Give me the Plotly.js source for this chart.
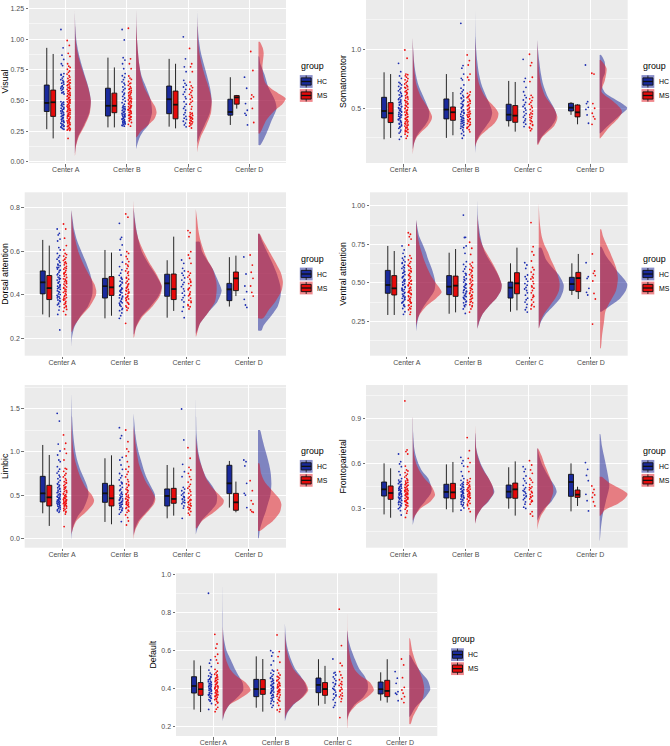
<!DOCTYPE html>
<html><head><meta charset="utf-8">
<script src="https://cdn.plot.ly/plotly-3.0.1.min.js"></script>
<style>html,body{margin:0;padding:0;background:#fff}</style></head>
<body><div id="chart" style="width:670px;height:746px"></div>
<script>
const centers = ['Center A','Center B','Center C','Center D'];
const groups = ['HC','MS'];
const panelNames = ['Visual','Somatomotor','Dorsal attention','Ventral attention','Limbic','Frontoparietal','Default'];

// order of every list below: A HC, A MS, B HC, B MS, C HC, C MS, D HC, D MS
// boxes: [lower whisker, q1, median, q3, upper whisker]
const visualBoxes = [[.265,.41,.48,.626,.93],[.19,.37,.485,.585,.88],[.28,.373,.457,.60,.85],[.28,.40,.457,.56,.77],[.286,.392,.51,.618,.84],[.272,.35,.466,.577,.80],[.30,.38,.406,.51,.69],[.433,.47,.525,.54,.545]];
const somatomotorBoxes = [[.237,.418,.477,.593,.805],[.249,.379,.458,.548,.79],[.249,.41,.489,.579,.79],[.271,.398,.466,.511,.638],[.345,.395,.446,.534,.732],[.302,.381,.438,.523,.723],[.444,.477,.506,.542,.551],[.364,.427,.466,.528,.534]];
const dorsalBoxes = [[.311,.405,.458,.51,.652],[.298,.379,.431,.489,.626],[.293,.386,.44,.476,.606],[.305,.398,.435,.484,.594],[.296,.394,.453,.495,.559],[.327,.379,.427,.496,.667],[.347,.374,.426,.453,.573],[.395,.42,.476,.505,.58]];
const ventralBoxes = [[.291,.432,.486,.581,.74],[.291,.421,.464,.547,.707],[.299,.423,.475,.547,.696],[.308,.412,.482,.544,.72],[.312,.401,.469,.505,.627],[.321,.429,.497,.566,.729],[.421,.451,.492,.536,.627],[.395,.443,.531,.568,.688]];
const limbicBoxes = [[.289,.42,.52,.717,1.08],[.143,.374,.474,.613,.964],[.189,.416,.52,.636,.926],[.162,.374,.463,.613,.96],[.231,.374,.49,.571,.848],[.262,.405,.455,.578,.818],[.355,.517,.636,.845,.895],[.301,.324,.416,.52,.656]];
const frontoBoxes = [[.262,.384,.428,.477,.601],[.24,.362,.404,.451,.568],[.296,.371,.411,.462,.594],[.276,.366,.408,.468,.61],[.30,.371,.413,.457,.575],[.254,.369,.428,.47,.614],[.282,.382,.477,.528,.601],[.318,.375,.393,.424,.446]];
const defaultBoxes = [[.288,.375,.412,.461,.547],[.275,.363,.395,.43,.519],[.298,.356,.396,.447,.568],[.277,.368,.396,.446,.554],[.309,.377,.418,.454,.553],[.318,.363,.396,.43,.518],[.335,.37,.395,.433,.484],[.325,.356,.386,.442,.553]];

// half-violin outlines: [levels, widths]
const visualDensity = [
 [[.06,.12,.2,.3,.4,.5,.6,.7,.8,.9,1,1.1,1.25],[0,.012,.05,.15,.235,.26,.225,.165,.105,.055,.022,.007,0]],
 [[.05,.12,.2,.3,.4,.5,.6,.7,.8,.9,1,1.1,1.25],[.002,.015,.06,.165,.245,.26,.22,.155,.09,.04,.012,.004,0]],
 [[.1,.15,.2,.25,.3,.4,.5,.6,.7,.8,.9,1,1.1,1.25],[0,.025,.06,.12,.2,.26,.24,.17,.09,.05,.03,.015,.005,0]],
 [[.2,.25,.3,.35,.4,.45,.5,.6,.7,.8,.9,1,1.1,1.25],[.01,.08,.2,.3,.335,.31,.25,.14,.08,.05,.03,.015,.005,0]],
 [[.15,.2,.3,.4,.5,.6,.7,.8,.9,1,1.1,1.25],[0,.03,.12,.205,.235,.21,.16,.105,.055,.025,.008,0]],
 [[.07,.12,.2,.3,.4,.5,.6,.7,.8,.9,1,1.1,1.2],[0,.012,.055,.15,.225,.235,.19,.125,.07,.03,.012,.004,0]],
 [[.136,.23,.33,.435,.5,.61,.71,.8,.86],[.03,.13,.21,.295,.27,.16,.1,.03,.01]],
 [[.23,.34,.42,.47,.517,.56,.585,.64,.7,.776,.885,.93,.98],[.02,.13,.27,.39,.445,.32,.24,.115,.08,.065,.085,.07,.02]]];
const somatomotorDensity = [
 [[.15,.2,.25,.3,.35,.4,.46,.5,.6,.7,.8,.9,1,1.1],[0,.02,.05,.11,.19,.25,.267,.25,.17,.09,.045,.02,.007,0]],
 [[.105,.2,.25,.3,.35,.4,.43,.5,.6,.7,.8,.9,1,1.107],[0,.02,.06,.14,.24,.30,.31,.25,.13,.06,.03,.015,.006,0]],
 [[.113,.2,.25,.3,.35,.4,.46,.5,.6,.7,.8,.9,1,1.1,1.347],[0,.015,.05,.11,.18,.245,.275,.26,.18,.105,.06,.035,.018,.007,0]],
 [[.17,.22,.27,.32,.37,.42,.46,.5,.6,.7,.8,.9,1,1.1],[0,.03,.09,.2,.31,.365,.375,.33,.16,.07,.03,.015,.006,0]],
 [[.2,.25,.3,.35,.4,.45,.5,.6,.7,.8,.9,1,1.08],[.01,.06,.14,.23,.29,.305,.27,.165,.095,.055,.03,.01,0]],
 [[.19,.25,.3,.35,.4,.43,.5,.6,.7,.8,.9,1,1.08],[.012,.07,.17,.27,.315,.32,.265,.13,.06,.03,.015,.006,0]],
 [[.288,.345,.443,.5,.54,.585,.63,.68,.75,.8,.895,.952],[.01,.12,.33,.445,.36,.22,.09,.04,.05,.085,.08,.02]],
 [[.245,.33,.415,.46,.486,.53,.57,.64,.74,.84,.91],[.01,.14,.3,.355,.35,.28,.19,.03,.085,.11,.015]]];
const dorsalDensity = [
 [[.156,.2,.25,.3,.35,.4,.45,.5,.55,.6,.65,.7,.79],[0,.008,.045,.14,.27,.335,.34,.30,.235,.16,.09,.045,0]],
 [[.232,.26,.3,.35,.4,.42,.45,.5,.55,.6,.65,.7,.79],[.01,.05,.15,.3,.395,.40,.37,.27,.18,.11,.065,.03,0]],
 [[.22,.25,.3,.35,.4,.44,.5,.55,.6,.65,.7,.75,.8],[.005,.035,.12,.28,.41,.45,.34,.225,.13,.08,.045,.02,0]],
 [[.205,.25,.3,.35,.4,.44,.5,.55,.6,.65,.7,.75,.835],[.005,.04,.14,.31,.43,.455,.36,.25,.16,.085,.04,.015,0]],
 [[.225,.27,.32,.37,.42,.47,.52,.56,.6,.644],[.005,.07,.2,.35,.415,.35,.27,.18,.1,.06]],
 [[.21,.27,.32,.37,.42,.46,.52,.56,.6,.65,.7,.75,.794],[.005,.07,.2,.31,.335,.33,.27,.19,.13,.075,.04,.02,0]],
 [[.237,.26,.3,.35,.4,.44,.5,.55,.6,.65,.68],[.055,.09,.2,.32,.365,.36,.30,.225,.14,.06,.02]],
 [[.293,.33,.37,.42,.46,.5,.55,.6,.65,.68],[.08,.17,.28,.38,.40,.37,.28,.18,.08,.025]]];
const ventralDensity = [
 [[.182,.25,.3,.35,.4,.45,.5,.55,.6,.65,.7,.75,.8,.91],[0,.025,.06,.13,.22,.3,.315,.29,.25,.2,.16,.11,.055,0]],
 [[.22,.27,.3,.35,.4,.44,.5,.55,.6,.65,.7,.75,.8,.91],[0,.03,.07,.17,.33,.417,.32,.24,.18,.13,.09,.055,.03,0]],
 [[.2,.25,.3,.35,.4,.45,.49,.55,.6,.65,.7,.75,.8,.9,1.04],[0,.035,.09,.19,.31,.385,.396,.34,.27,.19,.12,.08,.05,.015,0]],
 [[.2,.25,.3,.35,.4,.45,.49,.55,.6,.65,.7,.75,.8,.9,.95],[0,.03,.09,.19,.31,.385,.396,.345,.285,.215,.14,.075,.035,.008,0]],
 [[.204,.25,.3,.35,.4,.45,.49,.55,.6,.65,.729],[0,.04,.12,.24,.35,.4,.406,.33,.22,.12,.04]],
 [[.204,.25,.3,.35,.4,.45,.5,.55,.6,.65,.7,.75,.8,.9,1.017],[.005,.03,.09,.18,.27,.33,.34,.31,.26,.2,.15,.09,.05,.015,0]],
 [[.312,.36,.4,.45,.49,.53,.58,.63,.68,.735],[.02,.2,.33,.42,.445,.38,.27,.18,.09,.02]],
 [[.074,.15,.25,.312,.36,.45,.53,.6,.7,.8,.848],[.01,.03,.065,.085,.14,.26,.29,.26,.16,.05,.015]]];
const limbicDensity = [
 [[-.027,.05,.15,.25,.35,.5,.6,.7,.8,.9,1,1.1,1.2,1.4,1.685],[0,.008,.035,.1,.2,.275,.255,.2,.14,.095,.065,.045,.03,.012,0]],
 [[.05,.1,.2,.3,.4,.44,.5,.6,.7,.8,.9,1,1.1,1.3,1.45],[0,.02,.08,.23,.35,.365,.33,.22,.15,.1,.06,.035,.02,.005,0]],
 [[.03,.1,.2,.3,.4,.5,.6,.7,.8,.9,1,1.1,1.2,1.446],[0,.02,.08,.2,.31,.345,.28,.21,.16,.12,.08,.05,.03,0]],
 [[-.02,.05,.1,.2,.3,.4,.46,.55,.65,.75,.85,1,1.1,1.3],[0,.01,.03,.1,.22,.33,.35,.29,.2,.14,.09,.05,.03,0]],
 [[.04,.1,.2,.3,.4,.5,.6,.7,.8,.9,1,1.2,1.4,1.685],[0,.02,.09,.22,.33,.34,.27,.17,.11,.07,.04,.012,.005,0]],
 [[.115,.2,.3,.4,.44,.5,.6,.7,.8,.9,1,1.1,1.2],[.01,.1,.29,.44,.45,.38,.25,.16,.11,.06,.03,.01,0]],
 [[0,.1,.2,.3,.4,.5,.63,.75,.85,.95,1.05,1.15,1.253],[.01,.03,.07,.12,.16,.2,.215,.205,.18,.145,.105,.07,.03]],
 [[.085,.14,.2,.3,.39,.45,.55,.65,.75,.868],[.03,.13,.24,.35,.376,.35,.23,.11,.05,.02]]];
const frontoDensity = [
 [[.19,.25,.3,.35,.4,.43,.5,.55,.6,.65,.7,.8,.9,1.077],[0,.035,.1,.2,.29,.305,.25,.15,.09,.05,.025,.007,.002,0]],
 [[.22,.25,.3,.35,.39,.45,.5,.55,.6,.65,.7,.8,.9,1.077],[0,.03,.12,.29,.358,.3,.19,.11,.055,.025,.012,.003,.002,0]],
 [[.2,.25,.3,.35,.41,.45,.5,.55,.6,.65,.7,.8],[0,.03,.1,.22,.31,.28,.22,.15,.09,.05,.02,.002]],
 [[.196,.25,.3,.35,.4,.45,.5,.55,.6,.65,.7,.856],[0,.03,.1,.21,.295,.28,.22,.14,.08,.04,.018,0]],
 [[.22,.25,.3,.35,.41,.45,.5,.55,.6,.65,.7],[0,.03,.11,.23,.31,.28,.2,.13,.07,.03,.005]],
 [[.158,.2,.25,.3,.35,.41,.45,.5,.55,.6,.65,.7],[0,.015,.055,.13,.21,.255,.25,.21,.16,.11,.07,.01]],
 [[.087,.15,.25,.35,.45,.55,.65,.72,.796],[.002,.015,.045,.1,.155,.12,.07,.035,.008]],
 [[.253,.29,.335,.37,.397,.43,.468,.512],[.01,.08,.3,.41,.45,.34,.165,.03]]];
const defaultDensity = [
 [[.225,.27,.31,.35,.39,.43,.47,.5,.55,.6,.65,.7,.8,.97],[0,.03,.1,.23,.33,.32,.25,.2,.13,.06,.025,.008,.005,0]],
 [[.235,.27,.31,.35,.39,.43,.47,.5,.55,.6,.65,.725],[0,.03,.1,.3,.45,.37,.2,.12,.055,.025,.012,0]],
 [[.225,.27,.31,.35,.39,.43,.47,.5,.55,.6,.65,.742],[0,.04,.13,.27,.355,.32,.24,.17,.1,.05,.02,0]],
 [[.24,.27,.31,.35,.39,.43,.47,.5,.55,.6,.65,.7],[0,.03,.12,.28,.375,.33,.22,.14,.07,.03,.01,0]],
 [[.233,.27,.31,.35,.39,.43,.47,.5,.55,.6,.65,.7],[0,.03,.11,.25,.33,.33,.27,.2,.13,.07,.025,.003]],
 [[.19,.24,.27,.31,.35,.39,.43,.47,.5,.55,.6,.65,.7,.868],[.002,.012,.04,.14,.31,.43,.37,.2,.12,.06,.03,.015,.005,0]],
 [[.25,.3,.35,.395,.44,.48,.53,.575],[.008,.1,.25,.337,.3,.2,.09,.01]],
 [[.212,.25,.3,.35,.4,.45,.5,.55,.6,.663],[.02,.06,.14,.22,.24,.21,.15,.09,.045,.008]]];

// individual subjects (estimated where the columns are too dense to separate)
const visualPoints = [
 [1.08,.93,.87,.835,.80,.785,.72,.708,.695,.683,.67,.664,.652,.641,.633,.622,.611,.604,.592,.583,.571,.562,.553,.49,.483,.474,.468,.459,.451,.444,.437,.429,.422,.414,.407,.399,.392,.384,.376,.369,.361,.353,.347,.338,.331,.322,.314,.305,.296,.288,.279,.271,.265,.712,.648,.617,.598,.566,.486,.463,.433,.411,.396,.381,.358,.343,.327,.309,.292,.283],
 [.99,.95,.885,.86,.80,.78,.77,.755,.741,.73,.716,.702,.691,.68,.668,.661,.652,.646,.633,.627,.618,.606,.598,.591,.583,.574,.566,.558,.549,.541,.533,.526,.517,.509,.502,.494,.487,.479,.471,.463,.456,.448,.441,.433,.426,.418,.41,.403,.395,.387,.38,.372,.364,.356,.349,.342,.334,.326,.318,.31,.302,.295,.287,.279,.271,.263,.255,.19,.643,.622,.602,.578,.553,.537,.521,.506,.491,.483,.467,.452,.437,.421,.414,.399,.383,.368,.352,.338,.322,.306,.291,.267,.258],
 [1.08,.995,.85,.83,.80,.76,.72,.702,.688,.67,.652,.641,.628,.611,.598,.586,.571,.559,.547,.533,.52,.507,.494,.482,.47,.456,.449,.441,.432,.425,.417,.41,.402,.394,.387,.379,.372,.366,.359,.351,.344,.337,.331,.323,.316,.308,.298,.29,.447,.436,.421,.405,.391,.382,.369,.355,.347,.334,.326,.319,.312,.303,.294],
 [1.09,.84,.80,.76,.70,.683,.672,.655,.642,.636,.624,.612,.6,.591,.582,.571,.562,.554,.546,.537,.529,.521,.513,.504,.496,.488,.48,.472,.464,.457,.449,.441,.434,.426,.418,.41,.402,.394,.386,.378,.37,.362,.354,.344,.333,.32,.305,.29,.594,.567,.541,.517,.493,.476,.453,.438,.422,.414,.398,.381,.366,.349],
 [1.02,.84,.775,.735,.665,.64,.625,.61,.59,.57,.55,.53,.515,.49,.47,.45,.435,.42,.40,.385,.37,.355,.345,.33,.315,.30,.285],
 [.925,.80,.775,.735,.65,.62,.605,.592,.58,.565,.55,.54,.525,.51,.495,.485,.47,.45,.43,.40,.392,.385,.378,.37,.362,.355,.348,.34,.332,.325,.318,.31,.30,.29,.275,.396,.366,.351,.336,.313],
 [.69,.60,.475,.42,.395,.38,.30],
 [.90,.745,.545,.53,.515,.435,.32]];
const somatomotorPoints = [
 [.881,.81,.774,.754,.72,.71,.698,.685,.672,.66,.648,.636,.625,.613,.602,.591,.58,.57,.559,.549,.538,.527,.516,.505,.494,.485,.474,.464,.453,.444,.433,.423,.412,.402,.392,.383,.372,.36,.345,.33,.315,.30,.29,.26,.237,.606,.574,.553,.531,.512,.498,.479,.468,.449,.438,.427,.407,.396,.377,.366,.352,.338],
 [.994,.924,.79,.785,.775,.764,.752,.741,.73,.718,.706,.694,.683,.672,.661,.65,.64,.629,.618,.608,.598,.587,.578,.567,.557,.547,.536,.526,.516,.506,.497,.487,.478,.468,.458,.449,.44,.43,.421,.412,.403,.394,.385,.376,.366,.358,.349,.34,.332,.323,.314,.305,.295,.28,.265,.245,.677,.634,.593,.562,.541,.521,.502,.483,.464,.445,.426,.407,.389,.371,.353,.336,.319,.301],
 [1.22,.862,.84,.79,.754,.74,.698,.67,.655,.64,.625,.61,.596,.582,.568,.555,.54,.527,.514,.5,.487,.474,.462,.45,.438,.425,.414,.403,.392,.38,.368,.355,.343,.33,.316,.30,.285,.27,.246,.588,.561,.533,.508,.481,.468,.456,.431,.419,.408,.397,.386,.374,.361,.349,.336],
 [.952,.904,.867,.79,.763,.74,.638,.627,.614,.602,.59,.578,.566,.554,.542,.53,.52,.508,.497,.486,.475,.464,.454,.443,.433,.423,.412,.402,.392,.381,.37,.358,.345,.33,.318,.30,.596,.56,.525,.491,.469,.448,.428,.407,.387,.364,.338],
 [.915,.754,.726,.678,.64,.61,.59,.57,.55,.53,.515,.50,.485,.47,.455,.44,.425,.41,.395,.38,.365,.345],
 [.958,.887,.862,.763,.726,.61,.592,.58,.565,.55,.535,.52,.505,.49,.476,.46,.445,.43,.415,.40,.385,.37,.355,.34,.325,.31,.452,.423,.392,.362,.333],
 [.867,.556,.54,.508,.49,.444,.373],
 [.797,.79,.54,.5,.458,.43,.41,.364]];
const dorsalPoints = [
 [.702,.682,.675,.656,.647,.617,.606,.59,.58,.572,.564,.556,.549,.541,.534,.526,.519,.511,.504,.496,.489,.482,.475,.468,.461,.454,.447,.44,.433,.426,.419,.412,.405,.398,.391,.384,.377,.37,.363,.355,.347,.331,.311,.24,.537,.514,.492,.471,.458,.444,.429,.415,.402,.387,.373,.359,.526,.478,.437,.394],
 [.725,.702,.66,.626,.606,.59,.585,.578,.571,.564,.558,.551,.544,.538,.531,.525,.518,.512,.505,.499,.493,.486,.48,.474,.467,.461,.455,.449,.443,.437,.431,.424,.418,.412,.406,.4,.394,.388,.382,.376,.37,.364,.357,.35,.342,.334,.325,.31,.547,.522,.496,.472,.452,.434,.415,.397,.379,.361,.346,.502,.463,.427,.386],
 [.728,.664,.655,.629,.606,.583,.55,.53,.515,.5,.49,.48,.472,.463,.455,.447,.44,.432,.424,.417,.41,.402,.395,.387,.38,.372,.364,.356,.348,.338,.328,.318,.305,.293,.476,.459,.443,.428,.413,.399,.384,.369,.352,.333,.421,.391,.362],
 [.771,.756,.598,.59,.576,.565,.553,.542,.531,.521,.51,.5,.49,.481,.472,.463,.455,.447,.44,.432,.425,.418,.41,.403,.396,.389,.382,.374,.366,.358,.35,.34,.33,.27,.537,.506,.477,.451,.436,.421,.407,.392,.378,.362,.344,.414,.386],
 [.56,.545,.522,.51,.5,.49,.478,.468,.458,.448,.438,.428,.418,.408,.398,.388,.378,.368,.345,.325,.296],
 [.695,.685,.667,.598,.583,.568,.545,.507,.5,.49,.482,.472,.463,.452,.443,.432,.424,.414,.405,.396,.386,.376,.366,.356,.346,.336,.458,.428,.401,.372,.351],
 [.574,.496,.441,.415,.38,.354,.343],
 [.583,.537,.504,.476,.441,.412,.395]];
const ventralPoints = [
 [.74,.714,.692,.67,.66,.648,.637,.626,.615,.604,.594,.583,.573,.563,.553,.543,.533,.523,.514,.504,.494,.484,.475,.465,.456,.446,.437,.427,.418,.408,.399,.389,.379,.369,.358,.346,.333,.312,.295,.631,.598,.568,.538,.509,.489,.47,.451,.432,.413,.394,.374,.352,.519,.459,.403],
 [.826,.816,.8,.785,.746,.677,.66,.65,.638,.627,.615,.604,.593,.582,.572,.561,.551,.541,.531,.521,.511,.501,.491,.481,.472,.462,.453,.443,.434,.424,.415,.405,.396,.386,.376,.367,.357,.347,.337,.325,.31,.295,.609,.577,.546,.516,.486,.467,.448,.429,.41,.391,.371,.352,.331,.496,.438,.381],
 [.941,.796,.795,.74,.729,.692,.638,.62,.605,.59,.575,.562,.55,.538,.527,.516,.505,.495,.485,.475,.465,.456,.446,.437,.428,.419,.41,.4,.391,.381,.37,.358,.345,.33,.301,.558,.522,.49,.47,.451,.432,.414,.396,.376,.353,.442,.405],
 [.764,.725,.685,.633,.622,.61,.598,.587,.576,.565,.554,.544,.534,.524,.514,.505,.495,.486,.477,.467,.458,.449,.44,.43,.421,.411,.401,.391,.38,.37,.358,.345,.33,.31,.582,.549,.519,.49,.463,.435,.416,.396,.375,.352],
 [.631,.616,.594,.551,.54,.525,.51,.495,.485,.47,.46,.45,.435,.42,.40,.39,.375,.36,.34,.325,.31],
 [.892,.735,.703,.681,.642,.6,.585,.57,.555,.54,.525,.51,.495,.48,.465,.45,.435,.42,.405,.39,.375,.36,.345,.33,.532,.473,.412,.352],
 [.631,.54,.529,.464,.438,.421],
 [.688,.577,.562,.547,.512,.431,.395,.232]];
const limbicPoints = [
 [1.446,1.357,1.09,1.01,.964,.906,.887,.829,.8,.775,.755,.73,.71,.69,.67,.65,.632,.615,.6,.585,.57,.556,.542,.528,.515,.502,.49,.478,.466,.454,.442,.43,.418,.406,.394,.382,.37,.358,.345,.33,.315,.30,.625,.576,.536,.509,.484,.46,.436,.412,.388,.364,.338,.318,.472,.448,.424,.4,.376],
 [1.196,1.1,1.034,.983,.906,.81,.8,.775,.75,.73,.71,.69,.672,.655,.64,.625,.61,.596,.582,.568,.555,.542,.53,.518,.506,.494,.482,.47,.458,.446,.434,.423,.411,.4,.388,.376,.364,.35,.335,.32,.30,.28,.135,.646,.589,.548,.512,.488,.464,.44,.417,.394,.37,.344,.312,.476,.452,.429,.405,.382],
 [1.28,1.188,1.157,.937,.906,.848,.798,.75,.725,.7,.675,.65,.63,.61,.59,.57,.552,.535,.518,.5,.485,.47,.455,.44,.425,.41,.395,.38,.365,.35,.335,.32,.30,.28,.193,.64,.56,.508,.478,.448,.418,.388,.358,.328,.463,.433,.403],
 [1.253,1.118,1.034,1.003,.953,.887,.829,.8,.77,.74,.71,.68,.655,.63,.61,.59,.57,.55,.532,.515,.5,.485,.47,.455,.44,.425,.41,.395,.38,.365,.345,.325,.30,.27,.24,.20,.154,.62,.56,.508,.478,.448,.418,.388,.355,.315,.463,.433,.403],
 [1.496,1.138,.856,.771,.713,.59,.57,.55,.53,.515,.5,.485,.47,.455,.44,.42,.40,.375,.35,.231,.478,.448,.412],
 [1.049,.926,.821,.791,.752,.713,.68,.65,.625,.6,.58,.56,.54,.52,.5,.48,.465,.45,.435,.42,.405,.39,.375,.36,.345,.33,.31,.29,.27,.443,.413,.383,.352],
 [.906,.887,.837,.636,.52,.5,.355],
 [.667,.551,.436,.397,.328,.309,.301]];
const frontoPoints = [
 [.663,.612,.597,.579,.546,.524,.5,.49,.482,.474,.466,.458,.45,.443,.436,.429,.422,.416,.409,.403,.396,.39,.383,.377,.37,.364,.357,.35,.343,.335,.327,.318,.308,.30,.287,.258,.478,.462,.447,.433,.419,.406,.393,.38,.367,.354,.34,.323,.426,.399,.373],
 [1.015,.69,.679,.663,.583,.557,.55,.54,.53,.52,.51,.5,.491,.483,.475,.467,.459,.452,.445,.438,.432,.425,.419,.412,.406,.4,.394,.388,.381,.375,.369,.362,.356,.349,.342,.335,.327,.318,.308,.297,.285,.27,.242,.488,.471,.456,.442,.428,.415,.403,.391,.378,.365,.352,.337,.322,.421,.397,.372,.346],
 [.641,.619,.601,.583,.546,.517,.5,.488,.476,.466,.457,.449,.441,.433,.426,.419,.412,.405,.398,.392,.385,.378,.371,.364,.357,.349,.34,.33,.318,.305,.29,.461,.445,.43,.416,.402,.389,.375,.361,.345,.326,.409,.382],
 [.772,.685,.634,.606,.579,.546,.5,.49,.48,.47,.462,.453,.445,.437,.43,.422,.415,.408,.401,.394,.387,.38,.372,.364,.355,.345,.335,.32,.30,.28,.475,.457,.441,.426,.412,.398,.384,.37,.352,.33,.404,.378],
 [.579,.563,.546,.517,.5,.485,.47,.455,.44,.43,.42,.41,.40,.39,.38,.37,.36,.345,.33,.31,.302,.415,.385],
 [.619,.59,.557,.535,.501,.49,.475,.46,.445,.435,.425,.415,.405,.395,.385,.375,.365,.355,.345,.33,.28,.265,.251,.44,.41,.38,.35],
 [.606,.561,.521,.486,.395,.353,.285],
 [.451,.428,.406,.391,.375,.346,.318]];
const defaultPoints = [
 [.90,.549,.532,.514,.496,.48,.472,.465,.458,.451,.444,.438,.432,.426,.42,.414,.408,.402,.396,.39,.384,.378,.372,.366,.36,.354,.347,.34,.332,.32,.289,.461,.448,.435,.423,.411,.399,.387,.375,.363,.35,.336,.417,.393,.369],
 [.684,.633,.611,.579,.567,.549,.532,.5,.49,.482,.474,.467,.46,.453,.447,.441,.435,.429,.424,.418,.413,.408,.402,.397,.392,.387,.381,.376,.37,.365,.359,.353,.346,.34,.332,.323,.313,.30,.29,.277,.471,.456,.443,.432,.421,.41,.4,.39,.379,.368,.356,.343,.326,.405,.384,.362],
 [.598,.588,.57,.544,.523,.496,.49,.48,.472,.464,.456,.449,.442,.435,.428,.422,.416,.41,.404,.398,.392,.386,.38,.374,.368,.361,.354,.347,.339,.33,.32,.31,.30,.452,.438,.425,.413,.401,.389,.377,.364,.35,.333,.407,.383],
 [.681,.593,.567,.537,.496,.48,.47,.462,.454,.446,.439,.432,.426,.42,.414,.408,.402,.396,.39,.384,.378,.372,.365,.358,.35,.342,.333,.323,.31,.29,.286,.277,.459,.442,.428,.417,.405,.393,.381,.368,.354,.337,.411,.387],
 [.554,.484,.48,.47,.46,.45,.44,.43,.42,.41,.40,.39,.38,.37,.36,.35,.34,.325,.31,.30,.425,.395,.365],
 [.816,.625,.532,.519,.488,.47,.455,.445,.435,.425,.415,.405,.395,.385,.375,.365,.355,.345,.33,.246,.42,.39,.36],
 [.488,.453,.426,.382,.374,.368,.335],
 [.554,.523,.456,.405,.391,.374,.356,.344,.325]];

const panelBoxes = [visualBoxes,somatomotorBoxes,dorsalBoxes,ventralBoxes,limbicBoxes,frontoBoxes,defaultBoxes];
const panelDensity = [visualDensity,somatomotorDensity,dorsalDensity,ventralDensity,limbicDensity,frontoDensity,defaultDensity];
const panelPoints = [visualPoints,somatomotorPoints,dorsalPoints,ventralPoints,limbicPoints,frontoPoints,defaultPoints];

const tickSets = [['0.00','0.25','0.50','0.75','1.00','1.25'],['0.5','1.0'],['0.2','0.4','0.6','0.8'],['0.25','0.50','0.75','1.00'],['0.0','0.5','1.0','1.5'],['0.3','0.6','0.9'],['0.2','0.4','0.6','0.8','1.0']];

// layout only
const W = 670, H = 746;
const rects = [[29,286,0,163],[366,627.7,0,163],[24.7,286,192.3,355.7],[370,627.7,192.3,355.7],[24.7,286,385,547.7],[366,627.7,385,547.7],[176,437.3,573.3,736]];
const yRanges = [[-.011,1.321],[.036,1.418],[.122,.87],[.026,1.089],[-.109,1.774],[.041,1.121],[.149,1.005]];
const minorSteps = [.125,.25,.1,.125,.25,.15,.1];
const colors = {HC:'#1a2a9c',MS:'#e50a0a'};
const fills = {HC:'rgba(20,30,150,0.5)',MS:'rgba(225,15,25,0.5)'};
const pointColors = {HC:'#1c2db0',MS:'#ee1111'};
const boxOffset = [-.31,-.205], pointOffset = [-.054,.048];
const violinBase = .15, boxWidth = .08, jitterScale = .8;
const jitterCycle = [-.03,.014,-.009,.027,-.021,.003,.031,-.026,.019,-.004,-.032,.009,.024,-.015,.029,-.001,-.024,.017,.006,-.018,.022,-.012,.033];
const FONT = 'Liberation Sans, Arial, sans-serif';

const traces = [], shapes = [], annotations = [];
const layout = {width:W,height:H,margin:{l:0,r:0,t:0,b:0},paper_bgcolor:'#fff',plot_bgcolor:'#EBEBEB',
  showlegend:false,font:{family:FONT},hovermode:false};

panelNames.forEach((name,p)=>{
  const sfx = p===0?'':String(p+1), xa='x'+sfx, ya='y'+sfx;
  const [l,r,t,b] = rects[p];
  layout['xaxis'+sfx] = {domain:[l/W,r/W],range:[.4,4.6],anchor:ya,tickmode:'array',tickvals:[1,2,3,4],ticktext:centers,
    showgrid:true,gridcolor:'#fff',gridwidth:1,zeroline:false,showline:false,ticks:'outside',ticklen:2.5,tickwidth:.7,tickcolor:'#333',
    ticklabelstandoff:-3,tickfont:{family:FONT,size:7,color:'#4D4D4D'},fixedrange:true};
  const labels = tickSets[p];
  layout['yaxis'+sfx] = {domain:[1-b/H,1-t/H],range:yRanges[p],anchor:xa,tickmode:'array',tickvals:labels.map(Number),ticktext:labels,
    showgrid:true,gridcolor:'#fff',gridwidth:1,zeroline:false,showline:false,ticks:'outside',ticklen:2.5,tickwidth:.7,tickcolor:'#333',
    tickfont:{family:FONT,size:7,color:'#4D4D4D'},fixedrange:true,
    minor:{tickmode:'linear',tick0:0,dtick:minorSteps[p],showgrid:true,gridcolor:'#fff',gridwidth:.5,ticks:''},
    title:{text:name,font:{family:FONT,size:8.8,color:'#000'},standoff:3}};

  groups.forEach((g,gi)=>{ centers.forEach((c,ci)=>{
    const k = ci*2+gi, base = ci+1+violinBase, [lv,wd] = panelDensity[p][k];
    traces.push({type:'scatter',mode:'lines',xaxis:xa,yaxis:ya,name:g+' '+c,
      x:[base,...wd.map(v=>base+v),base],y:[lv[0],...lv,lv[lv.length-1]],
      line:{width:0,shape:'spline',smoothing:.7},fill:'toself',fillcolor:fills[g],hoverinfo:'skip'});
  });});
  groups.forEach((g,gi)=>{ centers.forEach((c,ci)=>{
    const k = ci*2+gi, pts = panelPoints[p][k];
    traces.push({type:'scatter',mode:'markers',xaxis:xa,yaxis:ya,name:g+' '+c,
      x:pts.map((_,i)=>ci+1+pointOffset[gi]+jitterScale*jitterCycle[i%jitterCycle.length]),y:pts,
      marker:{size:1.8,color:pointColors[g]},hoverinfo:'skip'});
  });});
  groups.forEach((g,gi)=>{ centers.forEach((c,ci)=>{
    const k = ci*2+gi, [lo,q1,med,q3,hi] = panelBoxes[p][k], cx = ci+1+boxOffset[gi];
    traces.push({type:'box',xaxis:xa,yaxis:ya,name:g+' '+c,x:[cx],q1:[q1],median:[med],q3:[q3],lowerfence:[lo],upperfence:[hi],
      width:boxWidth,whiskerwidth:0,boxpoints:false,fillcolor:colors[g],line:{color:'#111',width:.9},hoverinfo:'skip'});
    traces.push({type:'scatter',mode:'lines',xaxis:xa,yaxis:ya,name:g+' '+c+' median',x:[cx-boxWidth/2,cx+boxWidth/2],y:[med,med],
      line:{color:'#111',width:1.7},hoverinfo:'skip'});
  });});

  // ggplot-style legend beside the panel
  const cy = (t+b)/2, lx = r+13;
  const px = v=>v/W, py = v=>1-v/H;
  annotations.push({xref:'paper',yref:'paper',x:px(lx),y:py(cy-15.5),xanchor:'left',yanchor:'middle',showarrow:false,text:'group',font:{family:FONT,size:8.9,color:'#000'}});
  groups.forEach((g,gi)=>{
    const yc = cy+gi*14;
    shapes.push({type:'rect',xref:'paper',yref:'paper',x0:px(lx+.8),x1:px(lx+13.6),y0:py(yc-6.4),y1:py(yc+6.4),fillcolor:fills[g],line:{width:0}});
    shapes.push({type:'line',xref:'paper',yref:'paper',x0:px(lx+7.2),x1:px(lx+7.2),y0:py(yc-6),y1:py(yc+6),line:{color:'#111',width:.8}});
    shapes.push({type:'rect',xref:'paper',yref:'paper',x0:px(lx+2.2),x1:px(lx+12.2),y0:py(yc-3.6),y1:py(yc+3.6),fillcolor:colors[g],line:{color:'#111',width:.9}});
    shapes.push({type:'line',xref:'paper',yref:'paper',x0:px(lx+2.2),x1:px(lx+12.2),y0:py(yc),y1:py(yc),line:{color:'#111',width:1.3}});
    annotations.push({xref:'paper',yref:'paper',x:px(lx+16),y:py(yc),xanchor:'left',yanchor:'middle',showarrow:false,text:g,font:{family:FONT,size:6.9,color:'#000'}});
  });
});
layout.shapes = shapes; layout.annotations = annotations;
Plotly.newPlot('chart',traces,layout,{staticPlot:true,displayModeBar:false});
</script></body></html>
